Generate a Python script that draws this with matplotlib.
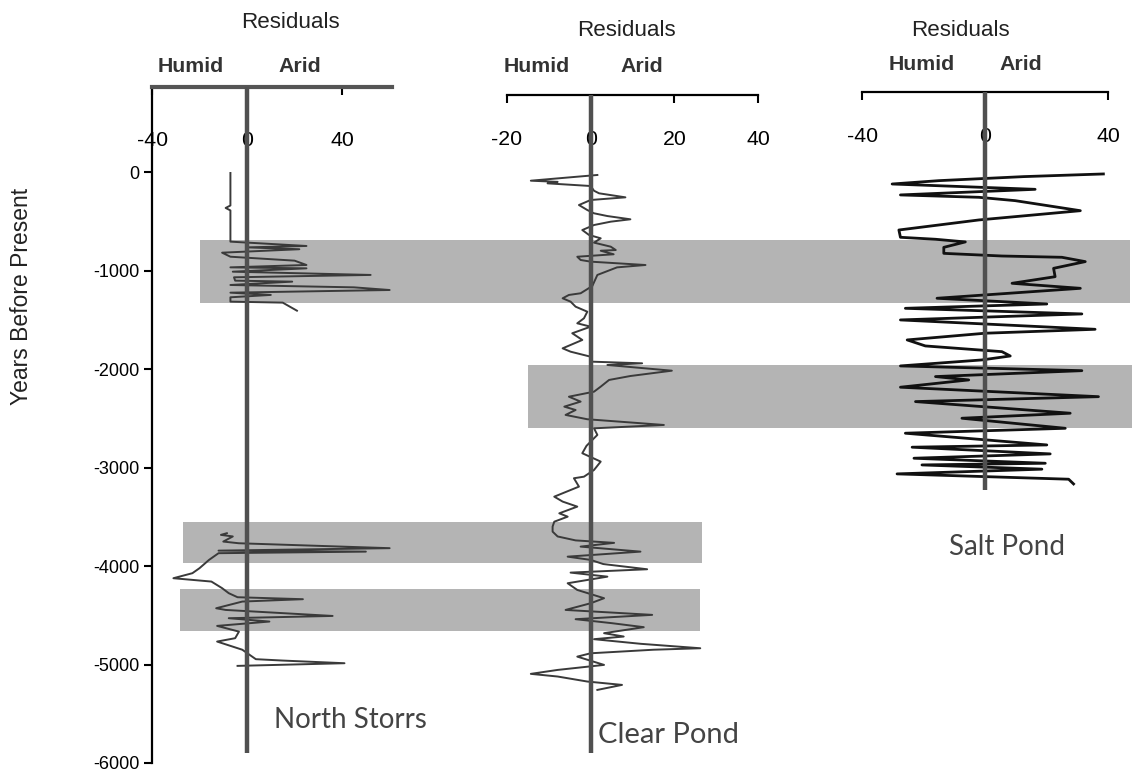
import numpy as np
import matplotlib
matplotlib.use("Agg")
import matplotlib.pyplot as plt
from matplotlib import font_manager

plt.rcParams['font.family'] = ['Liberation Sans', 'DejaVu Sans']
plt.rcParams['axes.unicode_minus'] = False

nan = np.nan

# North Storrs residuals (years before present, residual)
ns_year = [-10, -340, -365, -390, -707, -751, -765, -784, -819, -860, -900, -944, -968,
           -978, -1012, -1045, -1069, -1103, -1113, -1147, -1171, -1198, -1225, -1248,
           -1272, -1316, -1326, -1367, -1408, nan,
           -3667, -3684, -3700, -3752, -3769, -3819, -3844, -3854, -3870, -3938, -4022,
           -4073, -4124, -4141, -4158, -4225, -4276, -4317, -4337, -4361, -4429, -4446,
           -4507, -4530, -4564, -4608, -4666, -4733, -4767, -4850, -4946, -4960, -4987,
           -5014]
ns_resid = [-7, -7, -9, -7, -7, 25, 0, 22, -10.5, -7, 20, 25, -7,
            25, -6, 52, -5.5, -5, 19, -7, 45, 60, -7, 10,
            -7, -7, 15, 18, 21, nan,
            -8.5, -11, -6, -10, -3.5, 60, -12, 50, -12, -16, -20,
            -23, -31, -23, -15, -10.5, -7.7, -4, 23.5, -2, -13, -9,
            36, -7.7, 9.4, -12.6, -3.4, -5, -12.6, -2, 3.7, 15, 41,
            -4]

# Clear Pond residuals
cp_year = [-30, -88, -100, -115, -142, -190, -216, -257, -284, -335, -386, -419, -447,
           -480, -504, -538, -589, -639, -673, -717, -758, -792, -799, -835, -860, -893,
           -910, -944, -968, -1045, -1157, -1231, -1248, -1282, -1316, -1367, -1418,
           -1485, -1536, -1570, -1637, -1705, -1790, -1824, -1875, -1925, -1942, -1959,
           -2017, -2071, -2111, -2179, -2230, -2281, -2331, -2382, -2416, -2466, -2510,
           -2568, -2602, -2669, -2703, -2780, -2855, -2940, -3025, -3093, -3109, -3194,
           -3296, -3346, -3397, -3465, -3499, -3550, -3600, -3651, -3700, -3740, -3765,
           -3803, -3854, -3905, -3938, -3980, -4033, -4067, -4108, -4175, -4243, -4327,
           -4378, -4446, -4496, -4540, -4580, -4621, -4682, -4716, -4743, -4790, -4835,
           -4850, -4886, -4920, -5004, -5055, -5095, -5122, -5173, -5207, -5258]
cp_resid = [1.6, -14.3, -7.9, -10.3, 0, 0.8, 2, 8.3, 0, -2.8, -0.8, 0.8, 4,
            9.5, 4.8, 0.8, -2, -0.4, 2.4, 0.8, 4.8, 6, 2.4, 5.5, -3.2, -2.4,
            0, 13.1, 6.3, 1.6, 0.4, -2.4, -5.2, -6.7, -4.8, -3.6, -0.8,
            -1.6, -3.2, 0, -4.4, -2, -6.7, -4.8, 0, 0, 12.3, 4,
            19.4, 9.5, 4.4, 2.4, 0.8, -5.2, -2.4, -6.3, -3.6, -6, -0.8,
            17.5, 0.8, 1.6, 0.8, -1, -2, 2.4, 0.8, -1.6, -4, -2.8,
            -8.7, -6.7, -3.2, -7.5, -5.5, -8.7, -9.1, -9.1, -7.9, -3.6, 5.6,
            -2.4, 11.9, -5.5, 0, 3, 13.5, -4.8, 4, -5.5, -3.2, 3.2,
            0, -6, 14.7, -3.6, 5, 12.7, 3.2, 7.9, 0.8, 12, 26.2,
            15, 0, -3.2, 3.2, -7.9, -14.3, -7.9, -0.8, 7.5, 1.6]

# Salt Pond residuals
sp_year = [-20, -47, -88, -122, -176, -233, -257, -291, -393, -487, -589, -663, -683,
           -710, -765, -826, -853, -866, -910, -978, -1063, -1130, -1181, -1282, -1340,
           -1384, -1441, -1502, -1597, -1637, -1705, -1766, -1824, -1868, -1908, -1969,
           -2017, -2077, -2111, -2185, -2281, -2331, -2449, -2500, -2602, -2652, -2771,
           -2794, -2862, -2906, -2957, -2974, -3017, -3065, -3119, -3167]
sp_resid = [38.5, 12.6, -15, -30.2, 16.3, -27.5, -2, 9.8, 31, -2, -28, -27.5, -16.1,
            -6.4, -13.4, -13.4, 5.5, 25, 32.6, 22.3, 22.8, 8.8, 31, -15.6, 20.1,
            -25.9, 31.5, -27.5, 35.8, 0, -25.3, -19.4, 5.5, 8.2, -1, -27.5,
            31.5, -16.1, -5.3, -27.5, 36.9, -22.6, 27.7, -7.5, 26.1, -25.9, 20.1,
            -23.7, 21.2, -23.1, 19.6, -20.5, 18.5, -28.6, 27.2, 28.8]

# shaded intervals
band_top = [-690, -1960, -3550, -4230]
band_bottom = [-1330, -2600, -3970, -4660]

names = ['North Storrs', 'Clear Pond', 'Salt Pond']
xlims = [(-40, 61), (-20, 40), (-40, 40)]
xticks = [[-40, 0, 40], [-20, 0, 20, 40], [-40, 0, 40]]
ytops = [863, 782, 812]
zero_ends = [-5900, -5900, -3230]

# narrow face for the axis headings, if there is one
installed = {f.name for f in font_manager.fontManager.ttflist}
if 'Liberation Sans Narrow' in installed:
    narrow = ['Liberation Sans Narrow', 'Liberation Sans']
    k = 1.0
else:
    narrow = ['Liberation Sans', 'DejaVu Sans']
    k = 0.85

W, H = 1133, 778
fig = plt.figure(figsize=(W / 100, H / 100), dpi=100)


def box(x0, x1, ytop, ybot):
    return [x0 / W, 1 - ybot / H, (x1 - x0) / W, (ybot - ytop) / H]


bg = fig.add_axes(box(0, W, 87, 763), zorder=0)
bg.set_ylim(-6000, 863)
bg.set_xlim(0, 1)
bg.axis('off')
band_x = [(200, 1130), (528, 1132), (183, 702), (180, 700)]
for t, b, (x0, x1) in zip(band_top, band_bottom, band_x):
    bg.axhspan(b, t, xmin=x0 / W, xmax=x1 / W, color='#b4b4b4', lw=0)

spans = [(152, 392, 87), (507, 758, 95), (862, 1108, 92)]
pads = [-45, -39, -39]
series = [(ns_resid, ns_year), (cp_resid, cp_year), (sp_resid, sp_year)]
axes = []
for i, (x0, x1, yt) in enumerate(spans):
    ax = fig.add_axes(box(x0, x1, yt, 763), zorder=2)
    ax.patch.set_alpha(0)
    ax.set_xlim(*xlims[i])
    ax.set_ylim(-6000, ytops[i])
    for s in ['right', 'bottom']:
        ax.spines[s].set_visible(False)
    ax.xaxis.set_ticks_position('top')
    ax.set_xticks(xticks[i])
    ax.set_xticklabels([str(v) for v in xticks[i]], family=narrow)
    ax.tick_params(axis='x', direction='in', length=6, width=1.5, labelsize=18 * k,
                   pad=pads[i], top=True, labeltop=True, bottom=False, labelbottom=False)
    x, y = series[i]
    if i == 2:
        ax.plot(x, y, color='#111111', lw=2.0, zorder=3)
    else:
        ax.plot(x, y, color='#3a3a3a', lw=1.4, zorder=3)
    ax.vlines(0, zero_ends[i], ytops[i], color='#505050', lw=3.2, zorder=4)
    if i == 0:
        ax.spines['top'].set_color('#555555')
        ax.spines['top'].set_linewidth(3)
        ax.spines['left'].set_linewidth(1.6)
        ax.set_yticks(range(0, -7000, -1000))
        ax.tick_params(axis='y', direction='out', length=6, width=1.5,
                       labelsize=13, pad=3)
    else:
        ax.spines['left'].set_visible(False)
        ax.spines['top'].set_linewidth(1.6)
        ax.set_yticks([])
    axes.append(ax)

fig.text(22 / W, 1 - 296 / H, 'Years Before Present', fontsize=16.5, rotation=90,
         ha='center', va='center', color='#222222')

res_pos = [(290, 22), (626, 30), (960, 30)]
hum_pos = [(191, 67), (537, 67), (922, 65)]
arid_pos = [(300, 67), (642, 67), (1021, 65)]
name_pos = [(350, 720), (668, 735), (1007, 547)]
name_size = [20, 21, 20]
for i in range(3):
    fig.text(res_pos[i][0] / W, 1 - res_pos[i][1] / H, 'Residuals', fontsize=19 * k,
             family=narrow, ha='center', va='center', color='#222222')
    fig.text(hum_pos[i][0] / W, 1 - hum_pos[i][1] / H, 'Humid', fontsize=18 * k,
             family=narrow, fontweight='bold', ha='center', va='center', color='#333333')
    fig.text(arid_pos[i][0] / W, 1 - arid_pos[i][1] / H, 'Arid', fontsize=18 * k,
             family=narrow, fontweight='bold', ha='center', va='center', color='#333333')
    fig.text(name_pos[i][0] / W, 1 - name_pos[i][1] / H, names[i], fontsize=name_size[i],
             family=['Lato', 'DejaVu Sans'], color='#444444',
             ha='center', va='center')

fig.savefig('out.png', dpi=100)
